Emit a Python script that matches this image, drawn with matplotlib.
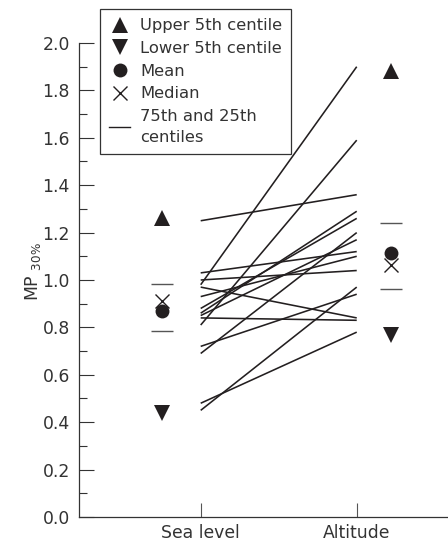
import matplotlib
matplotlib.use("Agg")
import matplotlib.pyplot as plt
from matplotlib.lines import Line2D
from matplotlib.ticker import MultipleLocator, FormatStrFormatter

plt.rcParams['font.family'] = ['DejaVu Sans']
plt.rcParams['mathtext.fontset'] = 'custom'
plt.rcParams['mathtext.rm'] = 'DejaVu Sans'
plt.rcParams['mathtext.it'] = 'DejaVu Sans'

# ---- data ----
categories = ['Sea level', 'Altitude']
sea_level = [1.25, 0.98, 0.97, 0.81, 0.84, 0.72, 0.69, 0.48, 0.45, 1.03, 1.00, 0.93, 0.88, 0.86, 0.85]
altitude  = [1.36, 1.90, 0.84, 1.59, 0.83, 0.94, 1.20, 0.78, 0.97, 1.12, 1.04, 1.10, 1.26, 1.29, 1.17]
upper5 = [1.26, 1.88]
lower5 = [0.44, 0.77]
means = [0.87, 1.115]
medians = [0.91, 1.065]
p75 = [0.985, 1.24]
p25 = [0.785, 0.96]
ytick_values = [0.0, 0.2, 0.4, 0.6, 0.8, 1.0, 1.2, 1.4, 1.6, 1.8, 2.0]

# ---- style ----
ink = '#231f20'
xpos = [1, 2]
summary_offset = [-0.25, 0.22]

fig = plt.figure(figsize=(4.48, 5.44), dpi=100)
ax = fig.add_axes([79/448, 1 - 517/544, 1 - 79/448, (517 - 43)/544])

for s, a in zip(sea_level, altitude):
    ax.plot(xpos, [s, a], color=ink, lw=1.15, solid_capstyle='butt')

sx = [x + o for x, o in zip(xpos, summary_offset)]
ax.plot(sx, p75, ls='none', marker='_', ms=16, mew=1.0, color='#555555')
ax.plot(sx, p25, ls='none', marker='_', ms=16, mew=1.0, color='#555555')
ax.plot(sx, upper5, ls='none', marker='^', ms=11, color=ink, mew=0)
ax.plot(sx, lower5, ls='none', marker='v', ms=11, color=ink, mew=0)
ax.plot(sx, means, ls='none', marker='o', ms=10, color=ink, mew=0)
ax.plot(sx, medians, ls='none', marker='x', ms=10.5, mew=1.0, color=ink)

ax.set_xlim(0.22, 2.585)
ax.set_ylim(0, 2.0)
ax.set_xticks(xpos)
ax.set_xticklabels(categories)
ax.set_yticks(ytick_values)
ax.yaxis.set_major_formatter(FormatStrFormatter('%.1f'))
ax.yaxis.set_minor_locator(MultipleLocator(0.1))

for side in ['top', 'right']:
    ax.spines[side].set_visible(False)
for side in ['left', 'bottom']:
    ax.spines[side].set_color('#333333')
    ax.spines[side].set_linewidth(0.9)

ax.tick_params(axis='y', which='major', direction='in', length=10.8, width=0.8,
               color='#333333', labelsize=12.4, labelcolor='#333333', pad=6.5)
ax.tick_params(axis='y', which='minor', direction='in', length=5.8, width=0.8, color='#333333')
ax.tick_params(axis='x', which='major', direction='in', length=10, width=0.8,
               color='#555555', labelsize=12.4, labelcolor='#333333', pad=5)

ax.set_ylabel(r'MP $_{30\%}$', fontsize=12.4, color='#333333')
ax.yaxis.set_label_coords(-0.097, 0.517)

handles = [
    Line2D([], [], ls='none', marker='^', ms=11, color=ink, mew=0),
    Line2D([], [], ls='none', marker='v', ms=11, color=ink, mew=0),
    Line2D([], [], ls='none', marker='o', ms=10, color=ink, mew=0),
    Line2D([], [], ls='none', marker='x', ms=10.5, mew=1.0, color=ink),
    Line2D([], [], ls='-', lw=1.0, color=ink),
]
labels = ['Upper 5th centile', 'Lower 5th centile', 'Mean', 'Median', '75th and 25th\ncentiles']
leg = fig.legend(handles, labels, loc='upper left',
                 bbox_to_anchor=(100/448, 1 - 9.3/544), bbox_transform=fig.transFigure,
                 borderaxespad=0, fontsize=11.8, handlelength=1.3, handletextpad=0.6,
                 borderpad=0.55, labelspacing=0.47, fancybox=False, framealpha=1,
                 edgecolor='#333333', labelcolor='#333333')
leg.get_frame().set_linewidth(0.9)
leg.get_texts()[4].set_linespacing(1.5)

fig.savefig('out.png', dpi=100)
